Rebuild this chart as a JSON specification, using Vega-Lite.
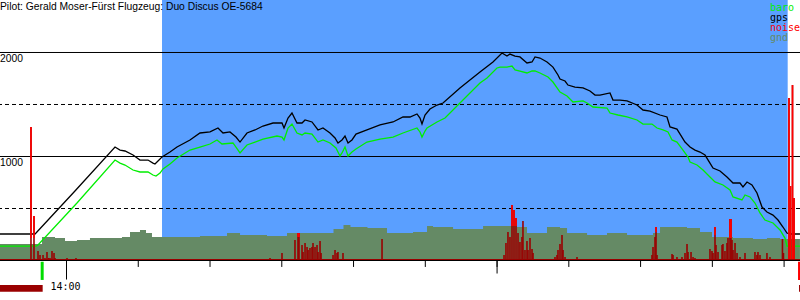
{
  "$schema": "https://vega.github.io/schema/vega-lite/v6.json",
  "width": 800,
  "height": 300,
  "autosize": {"type": "none"},
  "padding": 0,
  "background": "white",
  "config": {"view": {"stroke": null}},
  "datasets": {
    "gps": [
      {"t": -9.27, "alt": 255}, {"t": -4.39, "alt": 255}, {"t": -4.25, "alt": 264}, {"t": 1.18, "alt": 668},
      {"t": 6.76, "alt": 1091}, {"t": 7.46, "alt": 1062}, {"t": 8.15, "alt": 1053}, {"t": 9.27, "alt": 1014},
      {"t": 10.24, "alt": 966}, {"t": 11.36, "alt": 966}, {"t": 12.05, "alt": 937}, {"t": 12.33, "alt": 928},
      {"t": 12.75, "alt": 957}, {"t": 13.31, "alt": 995}, {"t": 14.42, "alt": 1043}, {"t": 15.4, "alt": 1091},
      {"t": 17.21, "alt": 1159}, {"t": 18.6, "alt": 1226}, {"t": 20.0, "alt": 1236}, {"t": 21.11, "alt": 1274},
      {"t": 21.81, "alt": 1226}, {"t": 22.78, "alt": 1236}, {"t": 23.62, "alt": 1187}, {"t": 24.18, "alt": 1139},
      {"t": 25.15, "alt": 1226}, {"t": 26.27, "alt": 1255}, {"t": 27.38, "alt": 1293}, {"t": 28.78, "alt": 1322},
      {"t": 30.03, "alt": 1322}, {"t": 30.31, "alt": 1274}, {"t": 30.87, "alt": 1370}, {"t": 31.42, "alt": 1418},
      {"t": 32.12, "alt": 1322}, {"t": 32.82, "alt": 1322}, {"t": 33.24, "alt": 1351}, {"t": 34.21, "alt": 1332},
      {"t": 35.05, "alt": 1255}, {"t": 35.74, "alt": 1274}, {"t": 36.72, "alt": 1226}, {"t": 37.42, "alt": 1178},
      {"t": 37.83, "alt": 1130}, {"t": 38.39, "alt": 1159}, {"t": 38.81, "alt": 1197}, {"t": 39.23, "alt": 1130},
      {"t": 39.78, "alt": 1159}, {"t": 40.34, "alt": 1216}, {"t": 41.87, "alt": 1255}, {"t": 43.69, "alt": 1303},
      {"t": 45.5, "alt": 1332}, {"t": 46.89, "alt": 1380}, {"t": 47.87, "alt": 1380}, {"t": 48.84, "alt": 1409},
      {"t": 49.26, "alt": 1370}, {"t": 49.54, "alt": 1312}, {"t": 49.96, "alt": 1399}, {"t": 50.65, "alt": 1457},
      {"t": 51.63, "alt": 1495}, {"t": 52.47, "alt": 1514}, {"t": 54.83, "alt": 1659}, {"t": 57.62, "alt": 1812},
      {"t": 59.43, "alt": 1909}, {"t": 60.69, "alt": 1995}, {"t": 61.38, "alt": 1966}, {"t": 61.8, "alt": 1985},
      {"t": 62.5, "alt": 1966}, {"t": 63.19, "alt": 1957}, {"t": 64.17, "alt": 1899}, {"t": 64.87, "alt": 1909},
      {"t": 65.29, "alt": 1957}, {"t": 65.98, "alt": 1947}, {"t": 66.96, "alt": 1909}, {"t": 67.79, "alt": 1860},
      {"t": 68.49, "alt": 1784}, {"t": 68.77, "alt": 1745}, {"t": 69.47, "alt": 1726}, {"t": 69.88, "alt": 1687},
      {"t": 70.86, "alt": 1668}, {"t": 71.98, "alt": 1659}, {"t": 72.95, "alt": 1630}, {"t": 73.65, "alt": 1591},
      {"t": 74.34, "alt": 1591}, {"t": 75.74, "alt": 1611}, {"t": 76.15, "alt": 1543}, {"t": 77.13, "alt": 1543},
      {"t": 78.11, "alt": 1534}, {"t": 79.5, "alt": 1495}, {"t": 80.34, "alt": 1447}, {"t": 81.31, "alt": 1437},
      {"t": 82.71, "alt": 1399}, {"t": 83.68, "alt": 1380}, {"t": 84.1, "alt": 1284}, {"t": 85.07, "alt": 1264},
      {"t": 86.19, "alt": 1139}, {"t": 86.89, "alt": 1091}, {"t": 87.58, "alt": 1062}, {"t": 88.28, "alt": 1043},
      {"t": 88.98, "alt": 1014}, {"t": 89.67, "alt": 937}, {"t": 90.09, "alt": 889}, {"t": 91.07, "alt": 861},
      {"t": 92.04, "alt": 803}, {"t": 92.88, "alt": 745}, {"t": 93.85, "alt": 745}, {"t": 94.27, "alt": 707},
      {"t": 94.83, "alt": 755}, {"t": 95.52, "alt": 726}, {"t": 96.22, "alt": 649}, {"t": 96.92, "alt": 514},
      {"t": 97.61, "alt": 466}, {"t": 98.45, "alt": 437}, {"t": 99.15, "alt": 389}, {"t": 99.84, "alt": 322},
      {"t": 100.4, "alt": 264}, {"t": 100.82, "alt": 255}, {"t": 102.21, "alt": 255}
    ],
    "baro": [
      {"t": -9.27, "alt": 139}, {"t": -4.25, "alt": 139}, {"t": -3.97, "alt": 149}, {"t": 1.46, "alt": 553},
      {"t": 6.76, "alt": 966}, {"t": 7.46, "alt": 937}, {"t": 8.15, "alt": 918}, {"t": 9.27, "alt": 870},
      {"t": 10.24, "alt": 851}, {"t": 11.36, "alt": 851}, {"t": 12.05, "alt": 822}, {"t": 12.47, "alt": 812},
      {"t": 13.03, "alt": 841}, {"t": 13.45, "alt": 880}, {"t": 14.42, "alt": 928}, {"t": 15.4, "alt": 986},
      {"t": 17.21, "alt": 1062}, {"t": 18.6, "alt": 1091}, {"t": 20.0, "alt": 1120}, {"t": 20.97, "alt": 1159},
      {"t": 21.67, "alt": 1120}, {"t": 23.2, "alt": 1130}, {"t": 24.18, "alt": 1034}, {"t": 25.15, "alt": 1111},
      {"t": 26.27, "alt": 1139}, {"t": 27.38, "alt": 1168}, {"t": 29.33, "alt": 1197}, {"t": 30.03, "alt": 1187},
      {"t": 30.31, "alt": 1159}, {"t": 30.87, "alt": 1274}, {"t": 31.42, "alt": 1312}, {"t": 32.12, "alt": 1226},
      {"t": 32.82, "alt": 1207}, {"t": 33.24, "alt": 1226}, {"t": 34.21, "alt": 1216}, {"t": 35.05, "alt": 1139},
      {"t": 35.74, "alt": 1159}, {"t": 36.72, "alt": 1130}, {"t": 37.55, "alt": 1082}, {"t": 38.11, "alt": 1005},
      {"t": 38.39, "alt": 1034}, {"t": 38.81, "alt": 1091}, {"t": 39.23, "alt": 1005}, {"t": 39.78, "alt": 1043},
      {"t": 40.34, "alt": 1072}, {"t": 41.87, "alt": 1139}, {"t": 43.69, "alt": 1168}, {"t": 45.5, "alt": 1187},
      {"t": 46.89, "alt": 1226}, {"t": 48.84, "alt": 1274}, {"t": 49.26, "alt": 1236}, {"t": 49.54, "alt": 1187},
      {"t": 49.96, "alt": 1245}, {"t": 50.24, "alt": 1274}, {"t": 51.63, "alt": 1332}, {"t": 52.75, "alt": 1370},
      {"t": 54.83, "alt": 1514}, {"t": 57.62, "alt": 1707}, {"t": 58.6, "alt": 1755}, {"t": 59.99, "alt": 1851},
      {"t": 60.41, "alt": 1860}, {"t": 61.38, "alt": 1860}, {"t": 62.08, "alt": 1870}, {"t": 62.5, "alt": 1832},
      {"t": 63.19, "alt": 1822}, {"t": 64.17, "alt": 1803}, {"t": 64.87, "alt": 1822}, {"t": 65.29, "alt": 1822},
      {"t": 65.98, "alt": 1803}, {"t": 67.1, "alt": 1764}, {"t": 67.79, "alt": 1716}, {"t": 68.77, "alt": 1620},
      {"t": 69.75, "alt": 1582}, {"t": 70.58, "alt": 1524}, {"t": 71.98, "alt": 1534}, {"t": 72.54, "alt": 1514},
      {"t": 73.37, "alt": 1476}, {"t": 75.32, "alt": 1466}, {"t": 75.74, "alt": 1418}, {"t": 76.85, "alt": 1399},
      {"t": 78.11, "alt": 1380}, {"t": 79.5, "alt": 1351}, {"t": 80.34, "alt": 1312}, {"t": 81.59, "alt": 1312},
      {"t": 82.29, "alt": 1274}, {"t": 83.13, "alt": 1255}, {"t": 83.82, "alt": 1236}, {"t": 84.38, "alt": 1159},
      {"t": 85.07, "alt": 1139}, {"t": 85.91, "alt": 1062}, {"t": 86.61, "alt": 995}, {"t": 86.89, "alt": 947},
      {"t": 87.86, "alt": 918}, {"t": 88.7, "alt": 870}, {"t": 89.67, "alt": 803}, {"t": 90.37, "alt": 755},
      {"t": 91.48, "alt": 726}, {"t": 92.46, "alt": 678}, {"t": 92.88, "alt": 611}, {"t": 94.13, "alt": 582},
      {"t": 94.55, "alt": 630}, {"t": 95.24, "alt": 611}, {"t": 95.94, "alt": 553}, {"t": 96.64, "alt": 457},
      {"t": 97.33, "alt": 389}, {"t": 98.45, "alt": 361}, {"t": 99.43, "alt": 293}, {"t": 100.12, "alt": 216},
      {"t": 100.4, "alt": 139}, {"t": 102.21, "alt": 139}
    ],
    "gnd": [
      {"t": -9.27, "alt": 159}, {"t": -3.41, "alt": 226}, {"t": -1.6, "alt": 216}, {"t": -0.21, "alt": 187},
      {"t": 1.46, "alt": 197}, {"t": 3.27, "alt": 216}, {"t": 7.73, "alt": 226}, {"t": 8.85, "alt": 274},
      {"t": 10.24, "alt": 293}, {"t": 11.08, "alt": 264}, {"t": 11.91, "alt": 226}, {"t": 18.6, "alt": 236},
      {"t": 22.37, "alt": 264}, {"t": 24.18, "alt": 245}, {"t": 27.94, "alt": 236}, {"t": 30.73, "alt": 264},
      {"t": 37.21, "alt": 303}, {"t": 38.6, "alt": 341}, {"t": 39.57, "alt": 322}, {"t": 41.94, "alt": 312},
      {"t": 44.66, "alt": 264}, {"t": 48.29, "alt": 274}, {"t": 50.24, "alt": 332}, {"t": 51.08, "alt": 322},
      {"t": 53.87, "alt": 303}, {"t": 58.05, "alt": 332}, {"t": 62.78, "alt": 322}, {"t": 64.17, "alt": 264},
      {"t": 66.96, "alt": 322}, {"t": 68.77, "alt": 312}, {"t": 69.75, "alt": 264}, {"t": 72.54, "alt": 245},
      {"t": 75.32, "alt": 264}, {"t": 78.11, "alt": 245}, {"t": 81.73, "alt": 264}, {"t": 82.71, "alt": 322},
      {"t": 86.47, "alt": 312}, {"t": 88.28, "alt": 274}, {"t": 89.95, "alt": 226}, {"t": 92.88, "alt": 216},
      {"t": 95.66, "alt": 207}, {"t": 97.61, "alt": 216}, {"t": 99.43, "alt": 207}, {"t": 102.21, "alt": 216}
    ],
    "noise": [
      {"t": -4.95, "n": 1284, "lo": 216}, {"t": -4.53, "n": 428, "lo": 216}, {"t": -3.97, "n": 91},
      {"t": -3.69, "n": 53}, {"t": -3.27, "n": 53}, {"t": -3.0, "n": 24}, {"t": -2.72, "n": 82},
      {"t": -2.51, "n": 24}, {"t": -2.3, "n": 24}, {"t": -2.02, "n": 91}, {"t": -1.74, "n": 72},
      {"t": -1.6, "n": 24}, {"t": 0.07, "n": 24}, {"t": 1.32, "n": 24}, {"t": 6.62, "n": 14},
      {"t": 28.36, "n": 24}, {"t": 30.03, "n": 72}, {"t": 31.84, "n": 197},
      {"t": 32.26, "n": 264, "lo": 226}, {"t": 32.4, "n": 264, "lo": 226},
      {"t": 32.82, "n": 149}, {"t": 32.96, "n": 82}, {"t": 33.24, "n": 168}, {"t": 33.52, "n": 130},
      {"t": 33.66, "n": 101}, {"t": 33.93, "n": 120}, {"t": 34.21, "n": 130}, {"t": 34.35, "n": 168},
      {"t": 34.63, "n": 130}, {"t": 34.91, "n": 149}, {"t": 35.05, "n": 82}, {"t": 35.33, "n": 187},
      {"t": 35.47, "n": 72}, {"t": 37.14, "n": 53}, {"t": 37.42, "n": 101}, {"t": 37.7, "n": 72},
      {"t": 37.83, "n": 82}, {"t": 38.53, "n": 72}, {"t": 43.97, "n": 207}, {"t": 46.75, "n": 14},
      {"t": 49.68, "n": 14}, {"t": 60.97, "n": 53}, {"t": 61.24, "n": 168}, {"t": 61.52, "n": 274},
      {"t": 61.8, "n": 226}, {"t": 62.08, "n": 534, "lo": 332}, {"t": 62.36, "n": 486, "lo": 332},
      {"t": 62.64, "n": 409, "lo": 332}, {"t": 62.92, "n": 264}, {"t": 63.19, "n": 178}, {"t": 63.47, "n": 226},
      {"t": 63.61, "n": 380}, {"t": 63.89, "n": 101}, {"t": 64.17, "n": 187}, {"t": 64.31, "n": 101},
      {"t": 64.59, "n": 216}, {"t": 64.87, "n": 111}, {"t": 65.01, "n": 72}, {"t": 68.07, "n": 34},
      {"t": 68.35, "n": 53}, {"t": 68.49, "n": 101}, {"t": 68.77, "n": 159}, {"t": 69.05, "n": 245},
      {"t": 69.19, "n": 101}, {"t": 69.47, "n": 34}, {"t": 71.14, "n": 34}, {"t": 81.59, "n": 53},
      {"t": 81.73, "n": 130}, {"t": 82.01, "n": 226}, {"t": 82.15, "n": 322, "lo": 274}, {"t": 82.29, "n": 53},
      {"t": 84.38, "n": 62}, {"t": 84.52, "n": 53}, {"t": 85.07, "n": 34}, {"t": 85.77, "n": 34},
      {"t": 86.19, "n": 72}, {"t": 86.47, "n": 159}, {"t": 86.61, "n": 82}, {"t": 87.03, "n": 82},
      {"t": 87.31, "n": 34}, {"t": 87.58, "n": 24}, {"t": 89.67, "n": 111}, {"t": 89.95, "n": 91},
      {"t": 90.09, "n": 72}, {"t": 90.37, "n": 322, "lo": 245}, {"t": 90.51, "n": 149}, {"t": 90.79, "n": 82},
      {"t": 91.35, "n": 149}, {"t": 91.48, "n": 159}, {"t": 91.76, "n": 91}, {"t": 92.04, "n": 168},
      {"t": 92.18, "n": 216}, {"t": 92.46, "n": 399, "lo": 216}, {"t": 92.6, "n": 399, "lo": 216},
      {"t": 92.74, "n": 197}, {"t": 92.88, "n": 101}, {"t": 93.16, "n": 168}, {"t": 93.44, "n": 72},
      {"t": 93.85, "n": 34}, {"t": 94.55, "n": 72}, {"t": 95.94, "n": 82}, {"t": 96.22, "n": 53},
      {"t": 96.36, "n": 82}, {"t": 96.64, "n": 53}, {"t": 97.61, "n": 72}, {"t": 98.03, "n": 34},
      {"t": 99.77, "n": 207}, {"t": 99.91, "n": 72},
      {"t": 100.68, "n": 1562, "lo": 0}, {"t": 100.89, "n": 716, "lo": 0},
      {"t": 101.17, "n": 1687, "lo": 0}, {"t": 101.38, "n": 601, "lo": 0}
    ],
    "ticks": [{"t": 0}, {"t": 10}, {"t": 20}, {"t": 30}, {"t": 40}, {"t": 50}, {"t": 60}, {"t": 70}, {"t": 80}, {"t": 90}, {"t": 100}],
    "levels": [{"v": 1000, "label": "1000", "style": "solid"}, {"v": 2000, "label": "2000", "style": "solid"}, {"v": 500, "style": "dashed"}, {"v": 1500, "style": "dashed"}]
  },
  "layer": [
    {
      "data": {"values": [{"start": 13.31, "end": 100.5}]},
      "mark": {"type": "rect", "color": "#5a9fff"},
      "encoding": {
        "x": {"field": "start", "type": "quantitative", "scale": {"domain": [-9.267, 102.215], "nice": false, "zero": false}, "axis": null},
        "x2": {"field": "end"},
        "y": {"datum": 0, "type": "quantitative", "scale": {"domain": [-379.8, 2504.8], "nice": false, "zero": false}, "axis": null},
        "y2": {"datum": 2504.8}
      }
    },
    {
      "data": {"name": "gnd"},
      "mark": {"type": "area", "color": "#658a65", "interpolate": "step-after"},
      "encoding": {
        "x": {"field": "t", "type": "quantitative", "scale": {"domain": [-9.267, 102.215], "nice": false, "zero": false}, "axis": null},
        "y": {"field": "alt", "type": "quantitative", "scale": {"domain": [-379.8, 2504.8], "nice": false, "zero": false}, "axis": null},
        "y2": {"datum": 0}
      }
    },
    {
      "data": {"name": "levels"},
      "transform": [{"filter": "datum.style == 'solid'"}],
      "mark": {"type": "rule", "color": "black", "strokeWidth": 1},
      "encoding": {
        "y": {"field": "v", "type": "quantitative", "scale": {"domain": [-379.8, 2504.8], "nice": false, "zero": false}, "axis": null}
      }
    },
    {
      "data": {"name": "levels"},
      "transform": [{"filter": "datum.style == 'dashed'"}],
      "mark": {"type": "rule", "color": "black", "strokeWidth": 1, "strokeDash": [4, 3]},
      "encoding": {
        "y": {"field": "v", "type": "quantitative", "scale": {"domain": [-379.8, 2504.8], "nice": false, "zero": false}, "axis": null}
      }
    },
    {
      "data": {"name": "gps"},
      "mark": {"type": "line", "color": "black", "strokeWidth": 1.3},
      "encoding": {
        "x": {"field": "t", "type": "quantitative", "scale": {"domain": [-9.267, 102.215], "nice": false, "zero": false}, "axis": null},
        "y": {"field": "alt", "type": "quantitative", "scale": {"domain": [-379.8, 2504.8], "nice": false, "zero": false}, "axis": null}
      }
    },
    {
      "data": {"name": "baro"},
      "mark": {"type": "line", "color": "#00ee00", "strokeWidth": 1.3},
      "encoding": {
        "x": {"field": "t", "type": "quantitative", "scale": {"domain": [-9.267, 102.215], "nice": false, "zero": false}, "axis": null},
        "y": {"field": "alt", "type": "quantitative", "scale": {"domain": [-379.8, 2504.8], "nice": false, "zero": false}, "axis": null}
      }
    },
    {
      "data": {"name": "noise"},
      "mark": {"type": "rule", "color": "#9a0000", "strokeWidth": 1.6},
      "encoding": {
        "x": {"field": "t", "type": "quantitative", "scale": {"domain": [-9.267, 102.215], "nice": false, "zero": false}, "axis": null},
        "y": {"field": "n", "type": "quantitative", "scale": {"domain": [-379.8, 2504.8], "nice": false, "zero": false}, "axis": null},
        "y2": {"datum": 0}
      }
    },
    {
      "data": {"name": "noise"},
      "transform": [{"filter": "isValid(datum.lo)"}],
      "mark": {"type": "rule", "color": "#ff0000", "strokeWidth": 1.6},
      "encoding": {
        "x": {"field": "t", "type": "quantitative", "scale": {"domain": [-9.267, 102.215], "nice": false, "zero": false}, "axis": null},
        "y": {"field": "n", "type": "quantitative", "scale": {"domain": [-379.8, 2504.8], "nice": false, "zero": false}, "axis": null},
        "y2": {"field": "lo"}
      }
    },
    {
      "data": {"values": [{"level": 9.6}]},
      "mark": {"type": "rule", "color": "#9a0000", "strokeWidth": 1},
      "encoding": {
        "y": {"field": "level", "type": "quantitative", "scale": {"domain": [-379.8, 2504.8], "nice": false, "zero": false}, "axis": null}
      }
    },
    {
      "data": {"values": [{"level": 0}]},
      "mark": {"type": "rule", "color": "black", "strokeWidth": 1},
      "encoding": {
        "y": {"field": "level", "type": "quantitative", "scale": {"domain": [-379.8, 2504.8], "nice": false, "zero": false}, "axis": null}
      }
    },
    {
      "data": {"name": "ticks"},
      "mark": {"type": "rule", "color": "black", "strokeWidth": 1},
      "encoding": {
        "x": {"field": "t", "type": "quantitative", "scale": {"domain": [-9.267, 102.215], "nice": false, "zero": false}, "axis": null},
        "y": {"datum": 0, "type": "quantitative", "scale": {"domain": [-379.8, 2504.8], "nice": false, "zero": false}, "axis": null},
        "y2": {"datum": -62}
      }
    },
    {
      "data": {"name": "ticks"},
      "transform": [{"filter": "datum.t == 60"}],
      "mark": {"type": "rule", "color": "black", "strokeWidth": 1},
      "encoding": {
        "x": {"field": "t", "type": "quantitative", "scale": {"domain": [-9.267, 102.215], "nice": false, "zero": false}, "axis": null},
        "y": {"datum": 0, "type": "quantitative", "scale": {"domain": [-379.8, 2504.8], "nice": false, "zero": false}, "axis": null},
        "y2": {"datum": -125}
      }
    },
    {
      "data": {"name": "ticks"},
      "transform": [{"filter": "datum.t == 0"}],
      "mark": {"type": "rule", "color": "black", "strokeWidth": 1},
      "encoding": {
        "x": {"field": "t", "type": "quantitative", "scale": {"domain": [-9.267, 102.215], "nice": false, "zero": false}, "axis": null},
        "y": {"datum": 0, "type": "quantitative", "scale": {"domain": [-379.8, 2504.8], "nice": false, "zero": false}, "axis": null},
        "y2": {"datum": -183}
      }
    },
    {
      "data": {"values": [{"event": "takeoff", "t": -3.39}]},
      "mark": {"type": "rule", "color": "#00dd00", "strokeWidth": 3},
      "encoding": {
        "x": {"field": "t", "type": "quantitative", "scale": {"domain": [-9.267, 102.215], "nice": false, "zero": false}, "axis": null},
        "y": {"datum": -12, "type": "quantitative", "scale": {"domain": [-379.8, 2504.8], "nice": false, "zero": false}, "axis": null},
        "y2": {"datum": -187}
      }
    },
    {
      "data": {"values": [{"event": "landing", "t": 102.08}]},
      "mark": {"type": "rule", "color": "#ff0000", "strokeWidth": 2},
      "encoding": {
        "x": {"field": "t", "type": "quantitative", "scale": {"domain": [-9.267, 102.215], "nice": false, "zero": false}, "axis": null},
        "y": {"datum": -12, "type": "quantitative", "scale": {"domain": [-379.8, 2504.8], "nice": false, "zero": false}, "axis": null},
        "y2": {"datum": -187}
      }
    },
    {
      "data": {"values": [{"start": -9.267, "end": -3.32}, {"start": 102.08, "end": 102.215}]},
      "mark": {"type": "rect", "color": "#9a0000"},
      "encoding": {
        "x": {"field": "start", "type": "quantitative", "scale": {"domain": [-9.267, 102.215], "nice": false, "zero": false}, "axis": null},
        "x2": {"field": "end"},
        "y": {"datum": -236, "type": "quantitative", "scale": {"domain": [-379.8, 2504.8], "nice": false, "zero": false}, "axis": null},
        "y2": {"datum": -300}
      }
    },
    {
      "data": {"values": [{"t": 0, "label": "14:00"}]},
      "mark": {"type": "text", "font": "DejaVu Sans Mono", "fontSize": 10, "align": "center", "baseline": "alphabetic", "dy": 29, "dx": -1, "color": "black"},
      "encoding": {
        "x": {"field": "t", "type": "quantitative", "scale": {"domain": [-9.267, 102.215], "nice": false, "zero": false}, "axis": null},
        "y": {"datum": 0, "type": "quantitative", "scale": {"domain": [-379.8, 2504.8], "nice": false, "zero": false}, "axis": null},
        "text": {"field": "label"}
      }
    },
    {
      "data": {"name": "levels"},
      "transform": [{"filter": "datum.style == 'solid'"}],
      "mark": {"type": "text", "font": "Liberation Sans", "fontSize": 10.3, "align": "left", "baseline": "alphabetic", "dy": 9.5, "color": "black"},
      "encoding": {
        "x": {"datum": -9.267, "type": "quantitative", "scale": {"domain": [-9.267, 102.215], "nice": false, "zero": false}, "axis": null},
        "y": {"field": "v", "type": "quantitative", "scale": {"domain": [-379.8, 2504.8], "nice": false, "zero": false}, "axis": null},
        "text": {"field": "label"}
      }
    },
    {
      "data": {"values": [{"label": "Pilot: Gerald Moser-Fürst Flugzeug: Duo Discus OE-5684"}]},
      "mark": {"type": "text", "font": "Liberation Sans", "fontSize": 10.3, "align": "left", "baseline": "alphabetic", "dy": 10, "color": "black"},
      "encoding": {
        "x": {"datum": -9.267, "type": "quantitative", "scale": {"domain": [-9.267, 102.215], "nice": false, "zero": false}, "axis": null},
        "y": {"datum": 2504.8, "type": "quantitative", "scale": {"domain": [-379.8, 2504.8], "nice": false, "zero": false}, "axis": null},
        "text": {"field": "label"}
      }
    },
    {
      "data": {"values": [{"label": "baro"}]},
      "mark": {"type": "text", "font": "DejaVu Sans Mono", "fontSize": 10, "align": "left", "baseline": "alphabetic", "dy": 10.5, "color": "#00ee00"},
      "encoding": {
        "x": {"datum": 98.03, "type": "quantitative", "scale": {"domain": [-9.267, 102.215], "nice": false, "zero": false}, "axis": null},
        "y": {"datum": 2504.8, "type": "quantitative", "scale": {"domain": [-379.8, 2504.8], "nice": false, "zero": false}, "axis": null},
        "text": {"field": "label"}
      }
    },
    {
      "data": {"values": [{"label": "gps"}]},
      "mark": {"type": "text", "font": "DejaVu Sans Mono", "fontSize": 10, "align": "left", "baseline": "alphabetic", "dy": 20.5, "color": "black"},
      "encoding": {
        "x": {"datum": 98.03, "type": "quantitative", "scale": {"domain": [-9.267, 102.215], "nice": false, "zero": false}, "axis": null},
        "y": {"datum": 2504.8, "type": "quantitative", "scale": {"domain": [-379.8, 2504.8], "nice": false, "zero": false}, "axis": null},
        "text": {"field": "label"}
      }
    },
    {
      "data": {"values": [{"label": "noise"}]},
      "mark": {"type": "text", "font": "DejaVu Sans Mono", "fontSize": 10, "align": "left", "baseline": "alphabetic", "dy": 30.5, "color": "#ff0000"},
      "encoding": {
        "x": {"datum": 98.03, "type": "quantitative", "scale": {"domain": [-9.267, 102.215], "nice": false, "zero": false}, "axis": null},
        "y": {"datum": 2504.8, "type": "quantitative", "scale": {"domain": [-379.8, 2504.8], "nice": false, "zero": false}, "axis": null},
        "text": {"field": "label"}
      }
    },
    {
      "data": {"values": [{"label": "gnd"}]},
      "mark": {"type": "text", "font": "DejaVu Sans Mono", "fontSize": 10, "align": "left", "baseline": "alphabetic", "dy": 40.5, "color": "#658a65"},
      "encoding": {
        "x": {"datum": 98.03, "type": "quantitative", "scale": {"domain": [-9.267, 102.215], "nice": false, "zero": false}, "axis": null},
        "y": {"datum": 2504.8, "type": "quantitative", "scale": {"domain": [-379.8, 2504.8], "nice": false, "zero": false}, "axis": null},
        "text": {"field": "label"}
      }
    }
  ]
}
